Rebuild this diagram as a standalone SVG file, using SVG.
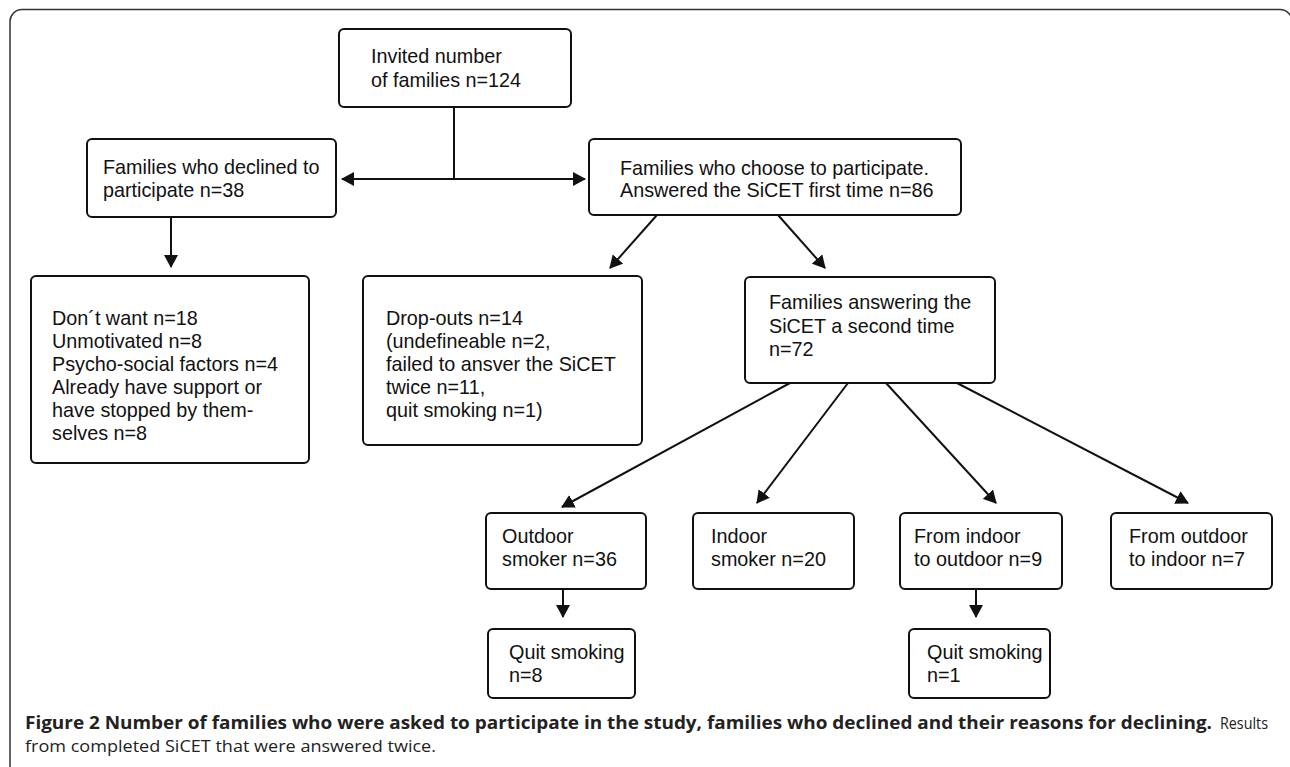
<svg xmlns="http://www.w3.org/2000/svg" width="1290" height="767" viewBox="0 0 1290 767">
<style>
.box{fill:#fff;stroke:#111;stroke-width:2}
.t{font-family:"Liberation Sans",Arial,sans-serif;font-size:19.8px;fill:#111}
.c{stroke:#111;stroke-width:2;fill:none}
.a{marker-end:url(#ah)}
.cap{font-family:"Open Sans","Liberation Sans",sans-serif;font-size:17px;fill:#222}
</style>
<defs>
<marker id="ah" markerUnits="userSpaceOnUse" markerWidth="14" markerHeight="14" refX="12" refY="7" orient="auto-start-reverse" viewBox="0 0 14 14">
<path d="M0,0 L13,7 L0,14 Z" fill="#111"/>
</marker>
</defs>
<rect width="1290" height="767" fill="#fff"/>
<path d="M10,767 V22 A12,12 0 0 1 22,9.5 H1280 A12,12 0 0 1 1292,22" fill="none" stroke="#333" stroke-width="1.5"/>

<g id="connectors">
<path class="c" d="M454,107 V179"/>
<path class="c a" d="M454,179 H342"/>
<path class="c a" d="M454,179 H585"/>
<path class="c a" d="M171,217 V267"/>
<path class="c a" d="M657,215 L610,268"/>
<path class="c a" d="M778,215 L825,268"/>
<path class="c a" d="M790,383 L562,507"/>
<path class="c a" d="M848,383 L757,503"/>
<path class="c a" d="M886,383 L996,503"/>
<path class="c a" d="M957,383 L1188,503"/>
<path class="c a" d="M563,589 V617"/>
<path class="c a" d="M976,589 V617"/>
</g>

<g id="invited">
<rect class="box" x="339" y="29" width="232" height="78" rx="5"/>
<text class="t" x="371" y="63">Invited number</text>
<text class="t" x="371" y="87">of families n=124</text>
</g>

<g id="declined">
<rect class="box" x="87" y="139" width="249" height="78" rx="5"/>
<text class="t" x="103" y="174">Families who declined to</text>
<text class="t" x="103" y="197">participate n=38</text>
</g>

<g id="participate">
<rect class="box" x="589" y="139" width="372" height="76" rx="5"/>
<text class="t" x="620" y="175">Families who choose to participate.</text>
<text class="t" x="620" y="197">Answered the SiCET first time n=86</text>
</g>

<g id="reasons">
<rect class="box" x="31" y="276" width="278" height="187" rx="5"/>
<text class="t" x="52" y="325">Don´t want n=18</text>
<text class="t" x="52" y="348">Unmotivated n=8</text>
<text class="t" x="52" y="371">Psycho-social factors n=4</text>
<text class="t" x="52" y="394">Already have support or</text>
<text class="t" x="52" y="417">have stopped by them-</text>
<text class="t" x="52" y="440">selves n=8</text>
</g>

<g id="dropouts">
<rect class="box" x="363" y="276" width="279" height="169" rx="5"/>
<text class="t" x="386" y="325">Drop-outs n=14</text>
<text class="t" x="386" y="348">(undefineable n=2,</text>
<text class="t" x="386" y="371">failed to ansver the SiCET</text>
<text class="t" x="386" y="394">twice n=11,</text>
<text class="t" x="386" y="417">quit smoking n=1)</text>
</g>

<g id="second">
<rect class="box" x="745" y="277" width="250" height="106" rx="5"/>
<text class="t" x="769" y="309">Families answering the</text>
<text class="t" x="769" y="333">SiCET a second time</text>
<text class="t" x="769" y="356">n=72</text>
</g>

<g id="outdoor">
<rect class="box" x="486" y="513" width="160" height="76" rx="5"/>
<text class="t" x="502" y="543">Outdoor</text>
<text class="t" x="502" y="566">smoker n=36</text>
</g>

<g id="indoor">
<rect class="box" x="693" y="513" width="161" height="76" rx="5"/>
<text class="t" x="711" y="543">Indoor</text>
<text class="t" x="711" y="566">smoker n=20</text>
</g>

<g id="in2out">
<rect class="box" x="900" y="513" width="162" height="76" rx="5"/>
<text class="t" x="914" y="543">From indoor</text>
<text class="t" x="914" y="566">to outdoor n=9</text>
</g>

<g id="out2in">
<rect class="box" x="1111" y="513" width="161" height="76" rx="5"/>
<text class="t" x="1129" y="543">From outdoor</text>
<text class="t" x="1129" y="566">to indoor n=7</text>
</g>

<g id="quit1">
<rect class="box" x="488" y="629" width="147" height="69" rx="5"/>
<text class="t" x="509" y="659">Quit smoking</text>
<text class="t" x="509" y="682">n=8</text>
</g>

<g id="quit2">
<rect class="box" x="909" y="629" width="141" height="69" rx="5"/>
<text class="t" x="927" y="659">Quit smoking</text>
<text class="t" x="927" y="682">n=1</text>
</g>

<g id="caption">
<text class="cap" x="25" y="729" font-weight="bold" textLength="1187" lengthAdjust="spacingAndGlyphs">Figure 2 Number of families who were asked to participate in the study, families who declined and their reasons for declining.</text>
<text class="cap" x="1220" y="729" textLength="48" lengthAdjust="spacingAndGlyphs">Results</text>
<text class="cap" x="25" y="752" textLength="411" lengthAdjust="spacingAndGlyphs">from completed SiCET that were answered twice.</text>
</g>
</svg>
